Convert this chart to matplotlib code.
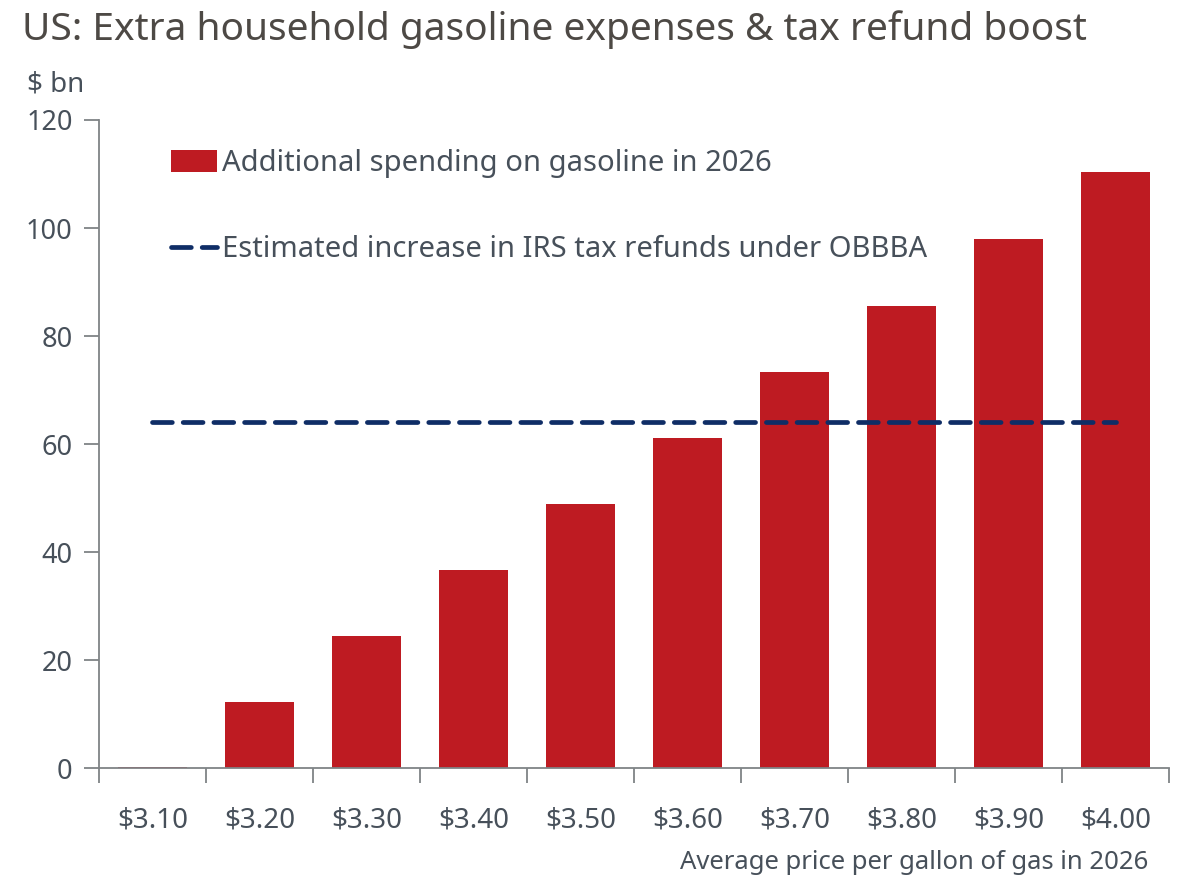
import matplotlib.pyplot as plt
from matplotlib.lines import Line2D
from matplotlib.patches import Patch

# Price scenarios and extra household gasoline spending ($ bn)
prices = ["$3.10", "$3.20", "$3.30", "$3.40", "$3.50",
          "$3.60", "$3.70", "$3.80", "$3.90", "$4.00"]
extra_spending = [0.2, 12.2, 24.4, 36.7, 48.9, 61.1, 73.3, 85.6, 98.0, 110.4]
refund_boost = 64.0  # estimated increase in IRS tax refunds under OBBBA

RED = "#be1b22"
NAVY = "#0f2d66"
TEXT = "#47505a"
AXIS = "#7f8386"

plt.rcParams["font.family"] = ["Noto Sans", "DejaVu Sans"]

fig = plt.figure(figsize=(11.78, 8.83), dpi=100)
ax = fig.add_axes([0.084, 0.1302, 0.9084, 0.7339])

x = list(range(len(prices)))
ax.bar(x, extra_spending, width=0.65, color=RED, zorder=2)
ax.plot([x[0], x[-1]], [refund_boost, refund_boost], color=NAVY, lw=3.4,
        dashes=(4.2, 2.3), dash_capstyle="round", zorder=3)

ax.set_xlim(-0.5, len(prices) - 0.5)
ax.set_ylim(0, 120)
ax.set_yticks(range(0, 121, 20))
ax.set_xticks(x)
ax.set_xticklabels(prices)
ax.set_xticks([i - 0.5 for i in range(len(prices) + 1)], minor=True)

for side in ("top", "right"):
    ax.spines[side].set_visible(False)
for side in ("left", "bottom"):
    ax.spines[side].set_color(AXIS)
    ax.spines[side].set_linewidth(1.3)

ax.tick_params(axis="x", which="major", length=0, pad=28,
               labelsize=20, labelcolor=TEXT)
ax.tick_params(axis="x", which="minor", length=11, width=1.3,
               color=AXIS, direction="out")
ax.tick_params(axis="y", length=11, width=1.3, color=AXIS, pad=8,
               labelsize=19.5, labelcolor=TEXT)

handles = [
    Patch(facecolor=RED, edgecolor="none"),
    Line2D([0], [0], color=NAVY, lw=3.4, dashes=(4.2, 2.3),
           dash_capstyle="round"),
]
labels = ["Additional spending on gasoline in 2026",
          "Estimated increase in IRS tax refunds under OBBBA"]
ax.legend(handles, labels, loc="upper left",
          bbox_to_anchor=(0.145, 0.831), bbox_transform=fig.transFigure,
          frameon=False, fontsize=21, labelcolor=TEXT,
          handlelength=1.6, handleheight=0.75, handletextpad=0.15,
          labelspacing=1.96, borderaxespad=0, borderpad=0)

fig.text(0.019, 0.966, "US: Extra household gasoline expenses & tax refund boost",
         fontsize=28, color="#4d4945", ha="left", va="center")
fig.text(0.023, 0.904, "$ bn", fontsize=20, color=TEXT, ha="left",
         va="center")
fig.text(0.975, 0.023, "Average price per gallon of gas in 2026",
         fontsize=18.5, color=TEXT, ha="right", va="center")

fig.savefig("out.png", dpi=100)
